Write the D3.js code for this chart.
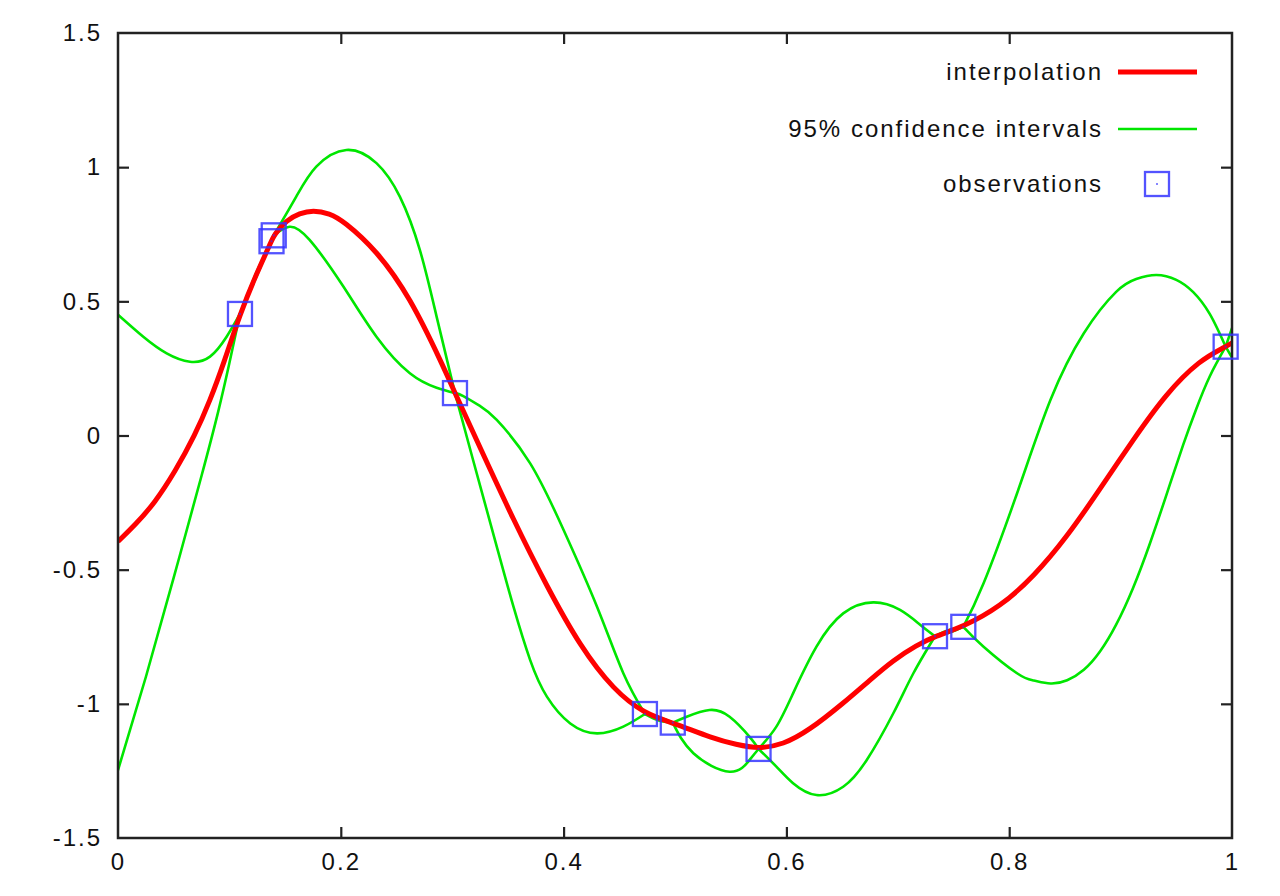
<!DOCTYPE html>
<html>
<head>
<meta charset="utf-8">
<script src="https://cdn.jsdelivr.net/npm/d3@7"></script>
<style>
  html, body { margin: 0; padding: 0; background: #fff; }
  svg { display: block; }
  text { font-family: "Liberation Sans", Arial, Helvetica, sans-serif; fill: #111; }
</style>
</head>
<body>
<svg id="chart" width="1280" height="896"></svg>
<script>
// ---------- data ----------
const obsX = [0.1095, 0.1378, 0.1398, 0.3025, 0.473, 0.498, 0.575, 0.7334, 0.7588, 0.9943];
const obsY = [0.453, 0.724, 0.746, 0.158, -1.038, -1.07, -1.168, -0.748, -0.713, 0.331];

const meanX = [0, 0.0153, 0.0332, 0.0512, 0.069, 0.0826, 0.095, 0.1095, 0.124, 0.1378, 0.1398, 0.1514, 0.163, 0.175, 0.19, 0.2023, 0.232, 0.262, 0.292, 0.3025, 0.325, 0.355, 0.385, 0.415, 0.445, 0.473, 0.498, 0.534, 0.555, 0.575, 0.597, 0.62, 0.651, 0.675, 0.696, 0.717, 0.7334, 0.7588, 0.792, 0.822, 0.852, 0.881, 0.911, 0.941, 0.971, 0.9943, 1.0];
const meanY = [-0.395, -0.334, -0.25, -0.135, 0.0, 0.13, 0.27, 0.453, 0.60, 0.724, 0.746, 0.803, 0.828, 0.84, 0.828, 0.80, 0.691, 0.517, 0.258, 0.158, -0.045, -0.315, -0.563, -0.787, -0.949, -1.038, -1.07, -1.129, -1.152, -1.168, -1.152, -1.10, -0.998, -0.911, -0.837, -0.781, -0.748, -0.713, -0.638, -0.526, -0.377, -0.203, -0.017, 0.157, 0.281, 0.331, 0.345];

const upperX = [0, 0.0227, 0.0437, 0.0646, 0.0826, 0.0975, 0.1095, 0.124, 0.1378, 0.1398, 0.16, 0.178, 0.205, 0.232, 0.253, 0.271, 0.286, 0.3025, 0.31, 0.325, 0.34, 0.37, 0.40, 0.43, 0.4536, 0.473, 0.4855, 0.498, 0.5105, 0.531, 0.549, 0.567, 0.575, 0.591, 0.606, 0.627, 0.651, 0.678, 0.702, 0.72, 0.7334, 0.746, 0.7588, 0.777, 0.807, 0.837, 0.867, 0.896, 0.914, 0.932, 0.95, 0.965, 0.98, 0.9943, 1.0];
const upperY = [0.45, 0.368, 0.306, 0.275, 0.294, 0.368, 0.453, 0.605, 0.724, 0.746, 0.89, 1.002, 1.064, 1.015, 0.89, 0.691, 0.443, 0.158, 0.147, 0.11, 0.058, -0.104, -0.352, -0.638, -0.886, -1.038, -1.05, -1.07, -1.048, -1.023, -1.048, -1.123, -1.168, -1.085, -0.961, -0.787, -0.663, -0.622, -0.65, -0.705, -0.748, -0.725, -0.713, -0.551, -0.216, 0.132, 0.381, 0.535, 0.583, 0.598, 0.58, 0.535, 0.453, 0.331, 0.40];

const lowerX = [0, 0.025, 0.05, 0.075, 0.09, 0.1, 0.1095, 0.124, 0.1378, 0.1398, 0.154, 0.172, 0.2023, 0.232, 0.262, 0.286, 0.3025, 0.318, 0.34, 0.355, 0.37, 0.385, 0.406, 0.43, 0.4536, 0.473, 0.4855, 0.498, 0.5165, 0.549, 0.567, 0.575, 0.591, 0.606, 0.627, 0.651, 0.672, 0.696, 0.714, 0.7334, 0.746, 0.7588, 0.777, 0.807, 0.822, 0.837, 0.852, 0.867, 0.8815, 0.896, 0.911, 0.926, 0.941, 0.956, 0.968, 0.98, 0.9943, 1.0];
const lowerY = [-1.247, -0.90, -0.53, -0.15, 0.09, 0.27, 0.453, 0.59, 0.724, 0.746, 0.778, 0.729, 0.555, 0.368, 0.232, 0.178, 0.158, -0.08, -0.414, -0.638, -0.837, -0.973, -1.073, -1.11, -1.085, -1.038, -1.062, -1.07, -1.184, -1.253, -1.209, -1.168, -1.234, -1.296, -1.34, -1.309, -1.21, -1.035, -0.886, -0.748, -0.735, -0.713, -0.787, -0.886, -0.913, -0.924, -0.912, -0.873, -0.805, -0.705, -0.57, -0.406, -0.223, -0.037, 0.10, 0.22, 0.331, 0.29];

const xTicks = [0, 0.2, 0.4, 0.6, 0.8, 1];
const yTicks = [-1.5, -1, -0.5, 0, 0.5, 1, 1.5];
const xTickLabels = ["0", "0.2", "0.4", "0.6", "0.8", "1"];
const yTickLabels = ["-1.5", "-1", "-0.5", "0", "0.5", "1", "1.5"];

const legendLabels = ["interpolation", "95% confidence intervals", "observations"];

// ---------- drawing ----------
const svg = d3.select("#chart");
const pLeft = 118, pRight = 1232, pTop = 33, pBottom = 838;

const x = d3.scaleLinear().domain([0, 1]).range([pLeft, pRight]);
const y = d3.scaleLinear().domain([-1.5, 1.5]).range([pBottom, pTop]);

const fontSize = 24;
const ls = "2px";
const green = "#00e600";
const blue = "#3535ff";

svg.append("defs").append("clipPath").attr("id", "plotclip")
  .append("rect").attr("x", pLeft).attr("y", pTop).attr("width", pRight - pLeft).attr("height", pBottom - pTop);

const zip = (xs, ys) => xs.map((v, i) => [v, ys[i]]);
const boundLine = d3.line().x(d => x(d[0])).y(d => y(d[1])).curve(d3.curveNatural);
const meanLine = d3.line().x(d => x(d[0])).y(d => y(d[1])).curve(d3.curveBasis);

// confidence bounds touch the mean at each observation: split them there
function splitAtObs(pts) {
  const segs = [];
  let cur = [pts[0]];
  for (let i = 1; i < pts.length; i++) {
    cur.push(pts[i]);
    if (i < pts.length - 1 && obsX.includes(pts[i][0])) {
      segs.push(cur);
      cur = [pts[i]];
    }
  }
  segs.push(cur);
  return segs;
}

const plot = svg.append("g").attr("clip-path", "url(#plotclip)");

[zip(upperX, upperY), zip(lowerX, lowerY)].forEach(pts => {
  splitAtObs(pts).forEach(seg => {
    plot.append("path").datum(seg).attr("d", boundLine)
      .attr("fill", "none").attr("stroke", green).attr("stroke-width", 2.6)
      .attr("stroke-linecap", "round").attr("stroke-linejoin", "round");
  });
});
plot.append("path").datum(zip(meanX, meanY)).attr("d", meanLine)
  .attr("fill", "none").attr("stroke", "#ff0000").attr("stroke-width", 5);

// axes (inward ticks, gnuplot style)
const tick = 11;
const axB = svg.append("g").attr("transform", `translate(0,${pBottom})`)
  .call(d3.axisBottom(x).tickValues(xTicks).tickFormat((d, i) => xTickLabels[i]).tickSizeInner(-tick).tickSizeOuter(0).tickPadding(15));
const axL = svg.append("g").attr("transform", `translate(${pLeft},0)`)
  .call(d3.axisLeft(y).tickValues(yTicks).tickFormat((d, i) => yTickLabels[i]).tickSizeInner(-tick).tickSizeOuter(0).tickPadding(16));
const axT = svg.append("g").attr("transform", `translate(0,${pTop})`)
  .call(d3.axisTop(x).tickValues(xTicks).tickFormat("").tickSizeInner(-tick).tickSizeOuter(0));
const axR = svg.append("g").attr("transform", `translate(${pRight},0)`)
  .call(d3.axisRight(y).tickValues(yTicks).tickFormat("").tickSizeInner(-tick).tickSizeOuter(0));

[axB, axL, axT, axR].forEach(g => {
  g.select(".domain").remove();
  g.selectAll(".tick line").attr("stroke", "#222").attr("stroke-width", 2.2);
  g.selectAll(".tick text").attr("font-size", fontSize).attr("fill", "#111")
    .style("font-family", '"Liberation Sans", Arial, sans-serif').style("letter-spacing", ls);
});
axB.selectAll(".tick").filter(d => d === 0 || d === 1).select("line").remove();
axT.selectAll(".tick").filter(d => d === 0 || d === 1).select("line").remove();
axL.selectAll(".tick").filter(d => d === -1.5 || d === 1.5).select("line").remove();
axR.selectAll(".tick").filter(d => d === -1.5 || d === 1.5).select("line").remove();

svg.append("rect").attr("x", pLeft).attr("y", pTop).attr("width", pRight - pLeft).attr("height", pBottom - pTop)
  .attr("fill", "none").attr("stroke", "#222").attr("stroke-width", 2.5);

// observations
const obs = svg.append("g");
const sq = 24;
zip(obsX, obsY).forEach(p => {
  obs.append("rect").attr("x", x(p[0]) - sq / 2).attr("y", y(p[1]) - sq / 2)
    .attr("width", sq).attr("height", sq)
    .attr("fill", "none").attr("stroke", blue).attr("stroke-width", 2.3).attr("stroke-opacity", 0.85);
  obs.append("rect").attr("x", x(p[0]) - 1).attr("y", y(p[1]) - 1).attr("width", 2).attr("height", 2)
    .attr("fill", blue).attr("opacity", 0.6);
});

// legend
const leg = svg.append("g");
const legTextX = 1103;
const legRows = [72, 129, 184];
legendLabels.forEach((t, i) => {
  leg.append("text").attr("x", legTextX).attr("y", legRows[i]).attr("dy", "0.33em")
    .attr("text-anchor", "end").attr("font-size", fontSize).style("letter-spacing", ls).text(t);
});
leg.append("line").attr("x1", 1118).attr("x2", 1197).attr("y1", legRows[0]).attr("y2", legRows[0])
  .attr("stroke", "#ff0000").attr("stroke-width", 5);
leg.append("line").attr("x1", 1118).attr("x2", 1197).attr("y1", legRows[1]).attr("y2", legRows[1])
  .attr("stroke", green).attr("stroke-width", 2.6);
leg.append("rect").attr("x", 1157 - sq / 2).attr("y", legRows[2] - sq / 2).attr("width", sq).attr("height", sq)
  .attr("fill", "none").attr("stroke", blue).attr("stroke-width", 2.3).attr("stroke-opacity", 0.85);
leg.append("rect").attr("x", 1156).attr("y", legRows[2] - 1).attr("width", 2).attr("height", 2)
  .attr("fill", blue).attr("opacity", 0.6);
</script>
</body>
</html>
